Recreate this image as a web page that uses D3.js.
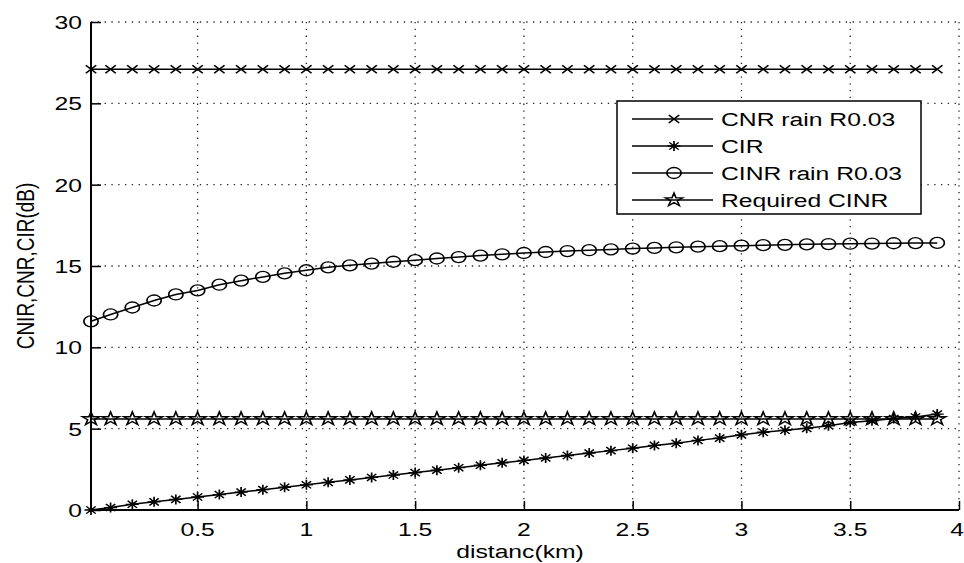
<!DOCTYPE html>
<html>
<head>
<meta charset="utf-8">
<script src="https://cdn.jsdelivr.net/npm/d3@7"></script>
<style>
  body { margin: 0; background: #fff; }
  text { font-family: "Liberation Sans", Arial, sans-serif; fill: #000; }
</style>
</head>
<body>
<svg id="chart" width="964" height="563"></svg>
<script>
// distance (km)
const distance = [0.01, 0.1, 0.2, 0.3, 0.4, 0.5, 0.6, 0.7, 0.8, 0.9,
  1.0, 1.1, 1.2, 1.3, 1.4, 1.5, 1.6, 1.7, 1.8, 1.9,
  2.0, 2.1, 2.2, 2.3, 2.4, 2.5, 2.6, 2.7, 2.8, 2.9,
  3.0, 3.1, 3.2, 3.3, 3.4, 3.5, 3.6, 3.7, 3.8, 3.9]

const cnrRain = [27.1, 27.1, 27.1, 27.1, 27.1, 27.1, 27.1, 27.1, 27.1, 27.1,
  27.1, 27.1, 27.1, 27.1, 27.1, 27.1, 27.1, 27.1, 27.1, 27.1,
  27.1, 27.1, 27.1, 27.1, 27.1, 27.1, 27.1, 27.1, 27.1, 27.1,
  27.1, 27.1, 27.1, 27.1, 27.1, 27.1, 27.1, 27.1, 27.1, 27.1]

const cir = [0, 0.15, 0.35, 0.5, 0.65, 0.8, 0.95, 1.1, 1.25, 1.4,
  1.55, 1.7, 1.85, 2.0, 2.15, 2.3, 2.45, 2.6, 2.75, 2.9,
  3.05, 3.2, 3.35, 3.5, 3.65, 3.8, 3.97, 4.1, 4.28, 4.42,
  4.62, 4.78, 4.9, 5.02, 5.18, 5.38, 5.48, 5.62, 5.72, 5.9]

const cinrRain = [11.6, 12.02, 12.45, 12.88, 13.25, 13.5, 13.85, 14.1, 14.33, 14.55,
  14.74, 14.92, 15.04, 15.15, 15.26, 15.36, 15.46, 15.55, 15.64, 15.72,
  15.8, 15.86, 15.92, 15.97, 16.02, 16.07, 16.11, 16.15, 16.19, 16.22,
  16.25, 16.28, 16.3, 16.33, 16.35, 16.37, 16.38, 16.4, 16.41, 16.42]

const requiredCinr = [5.6, 5.6, 5.6, 5.6, 5.6, 5.6, 5.6, 5.6, 5.6, 5.6,
  5.6, 5.6, 5.6, 5.6, 5.6, 5.6, 5.6, 5.6, 5.6, 5.6,
  5.6, 5.6, 5.6, 5.6, 5.6, 5.6, 5.6, 5.6, 5.6, 5.6,
  5.6, 5.6, 5.6, 5.6, 5.6, 5.6, 5.6, 5.6, 5.6, 5.6]

const xTicks = [0.5, 1, 1.5, 2, 2.5, 3, 3.5, 4]
const yTicks = [0, 5, 10, 15, 20, 25, 30]
const legendNames = ["CNR rain R0.03", "CIR", "CINR rain R0.03", "Required CINR"]

// the picture is stretched sideways, so text and markers are too
const sx = 1.3
const fs = "19px"

let svg = d3.select("#chart")

let x = d3.scaleLinear().domain([0.01, 4]).range([91, 959])
let y = d3.scaleLinear().domain([0, 30]).range([510, 22])

// markers, drawn around 0,0
const markers = {
  cross: (g) => g.append("path").attr("d", "M-4,-4L4,4M-4,4L4,-4"),
  aster: (g) => g.append("path").attr("d", "M-5,0H5M0,-5V5M-3.6,-3.6L3.6,3.6M-3.6,3.6L3.6,-3.6"),
  circle: (g) => g.append("circle").attr("r", 5.5),
  star: (g) => g.append("path").attr("d", d3.symbol().type(d3.symbolStar).size(55)())
}

// grid
let grid = svg.append("g")
  .attr("stroke", "#222")
  .attr("stroke-width", 1.3)
  .attr("stroke-dasharray", "1.3,5.5")

grid.selectAll("line.gx")
  .data(xTicks)
  .enter()
  .append("line")
  .attr("x1", (d) => x(d))
  .attr("x2", (d) => x(d))
  .attr("y1", y(30))
  .attr("y2", y(0))

grid.selectAll("line.gy")
  .data(yTicks.slice(1))
  .enter()
  .append("line")
  .attr("x1", x(0.01))
  .attr("x2", x(4))
  .attr("y1", (d) => y(d))
  .attr("y2", (d) => y(d))

// axes (ticks point inwards)
let xAxis = svg.append("g")
  .attr("transform", "translate(0," + y(0) + ")")
  .call(d3.axisTop(x).tickValues(xTicks).tickSize(9).tickFormat(""))
xAxis.select(".domain").remove()
xAxis.selectAll("line").attr("stroke", "#000").attr("stroke-width", 1.5)

let yAxis = svg.append("g")
  .attr("transform", "translate(" + x(0.01) + ",0)")
  .call(d3.axisRight(y).tickValues(yTicks).tickSize(10).tickFormat(""))
yAxis.select(".domain").remove()
yAxis.selectAll("line").attr("stroke", "#000").attr("stroke-width", 1.5)

svg.append("path")
  .attr("d", "M" + x(0.01) + "," + y(30) + "V" + y(0) + "H" + x(4))
  .attr("fill", "none")
  .attr("stroke", "#000")
  .attr("stroke-width", 2)

// tick labels (last one kept inside the page)
svg.selectAll("text.xt")
  .data(xTicks)
  .enter()
  .append("text")
  .attr("text-anchor", (d) => d === 4 ? "end" : "middle")
  .attr("font-size", fs)
  .attr("transform", (d) => "translate(" + (d === 4 ? 964 : x(d)) + "," + (y(0) + 26) + ") scale(" + sx + ",1)")
  .text((d) => d)

svg.selectAll("text.yt")
  .data(yTicks)
  .enter()
  .append("text")
  .attr("text-anchor", "end")
  .attr("font-size", fs)
  .attr("transform", (d) => "translate(" + (x(0.01) - 9) + "," + (y(d) + 7) + ") scale(" + sx + ",1)")
  .text((d) => d)

svg.append("text")
  .attr("text-anchor", "middle")
  .attr("font-size", fs)
  .attr("transform", "translate(" + ((x(0.01) + x(4)) / 2 - 5) + ",558) scale(" + sx + ",1)")
  .text("distanc(km)")

svg.append("text")
  .attr("text-anchor", "middle")
  .attr("font-size", fs)
  .attr("transform", "translate(34," + ((y(0) + y(30)) / 2) + ") scale(" + sx + ",1) rotate(-90)")
  .text("CNIR,CNR,CIR(dB)")

// series
let series = [
  { name: legendNames[0], values: cnrRain, marker: "cross" },
  { name: legendNames[1], values: cir, marker: "aster" },
  { name: legendNames[2], values: cinrRain, marker: "circle" },
  { name: legendNames[3], values: requiredCinr, marker: "star" }
]

let line = d3.line()
  .x((d) => x(d[0]))
  .y((d) => y(d[1]))

series.forEach((s) => {
  let pts = distance.map((d, i) => [d, s.values[i]])

  svg.append("path")
    .datum(pts)
    .attr("fill", "none")
    .attr("stroke", "#000")
    .attr("stroke-width", 1.5)
    .attr("d", line)

  svg.selectAll("g.m-" + s.marker)
    .data(pts)
    .enter()
    .append("g")
    .attr("class", "m-" + s.marker)
    .attr("transform", (d) => "translate(" + x(d[0]) + "," + y(d[1]) + ") scale(" + sx + ",1)")
    .attr("fill", "none")
    .attr("stroke", "#000")
    .attr("stroke-width", 1.3)
    .each(function () { markers[s.marker](d3.select(this)) })
})

// legend
let lg = svg.append("g").attr("transform", "translate(617,101)")

lg.append("rect")
  .attr("width", 304)
  .attr("height", 113)
  .attr("fill", "#fff")
  .attr("stroke", "#000")
  .attr("stroke-width", 1.5)

series.forEach((s, i) => {
  let ry = 18 + i * 27

  lg.append("line")
    .attr("x1", 15)
    .attr("x2", 96)
    .attr("y1", ry)
    .attr("y2", ry)
    .attr("stroke", "#000")
    .attr("stroke-width", 1.5)

  let m = lg.append("g")
    .attr("transform", "translate(57," + ry + ") scale(" + sx + ",1)")
    .attr("fill", "none")
    .attr("stroke", "#000")
    .attr("stroke-width", 1.3)
  markers[s.marker](m)

  lg.append("text")
    .attr("font-size", fs)
    .attr("transform", "translate(104," + (ry + 7) + ") scale(" + sx + ",1)")
    .text(s.name)
})
</script>
</body>
</html>
